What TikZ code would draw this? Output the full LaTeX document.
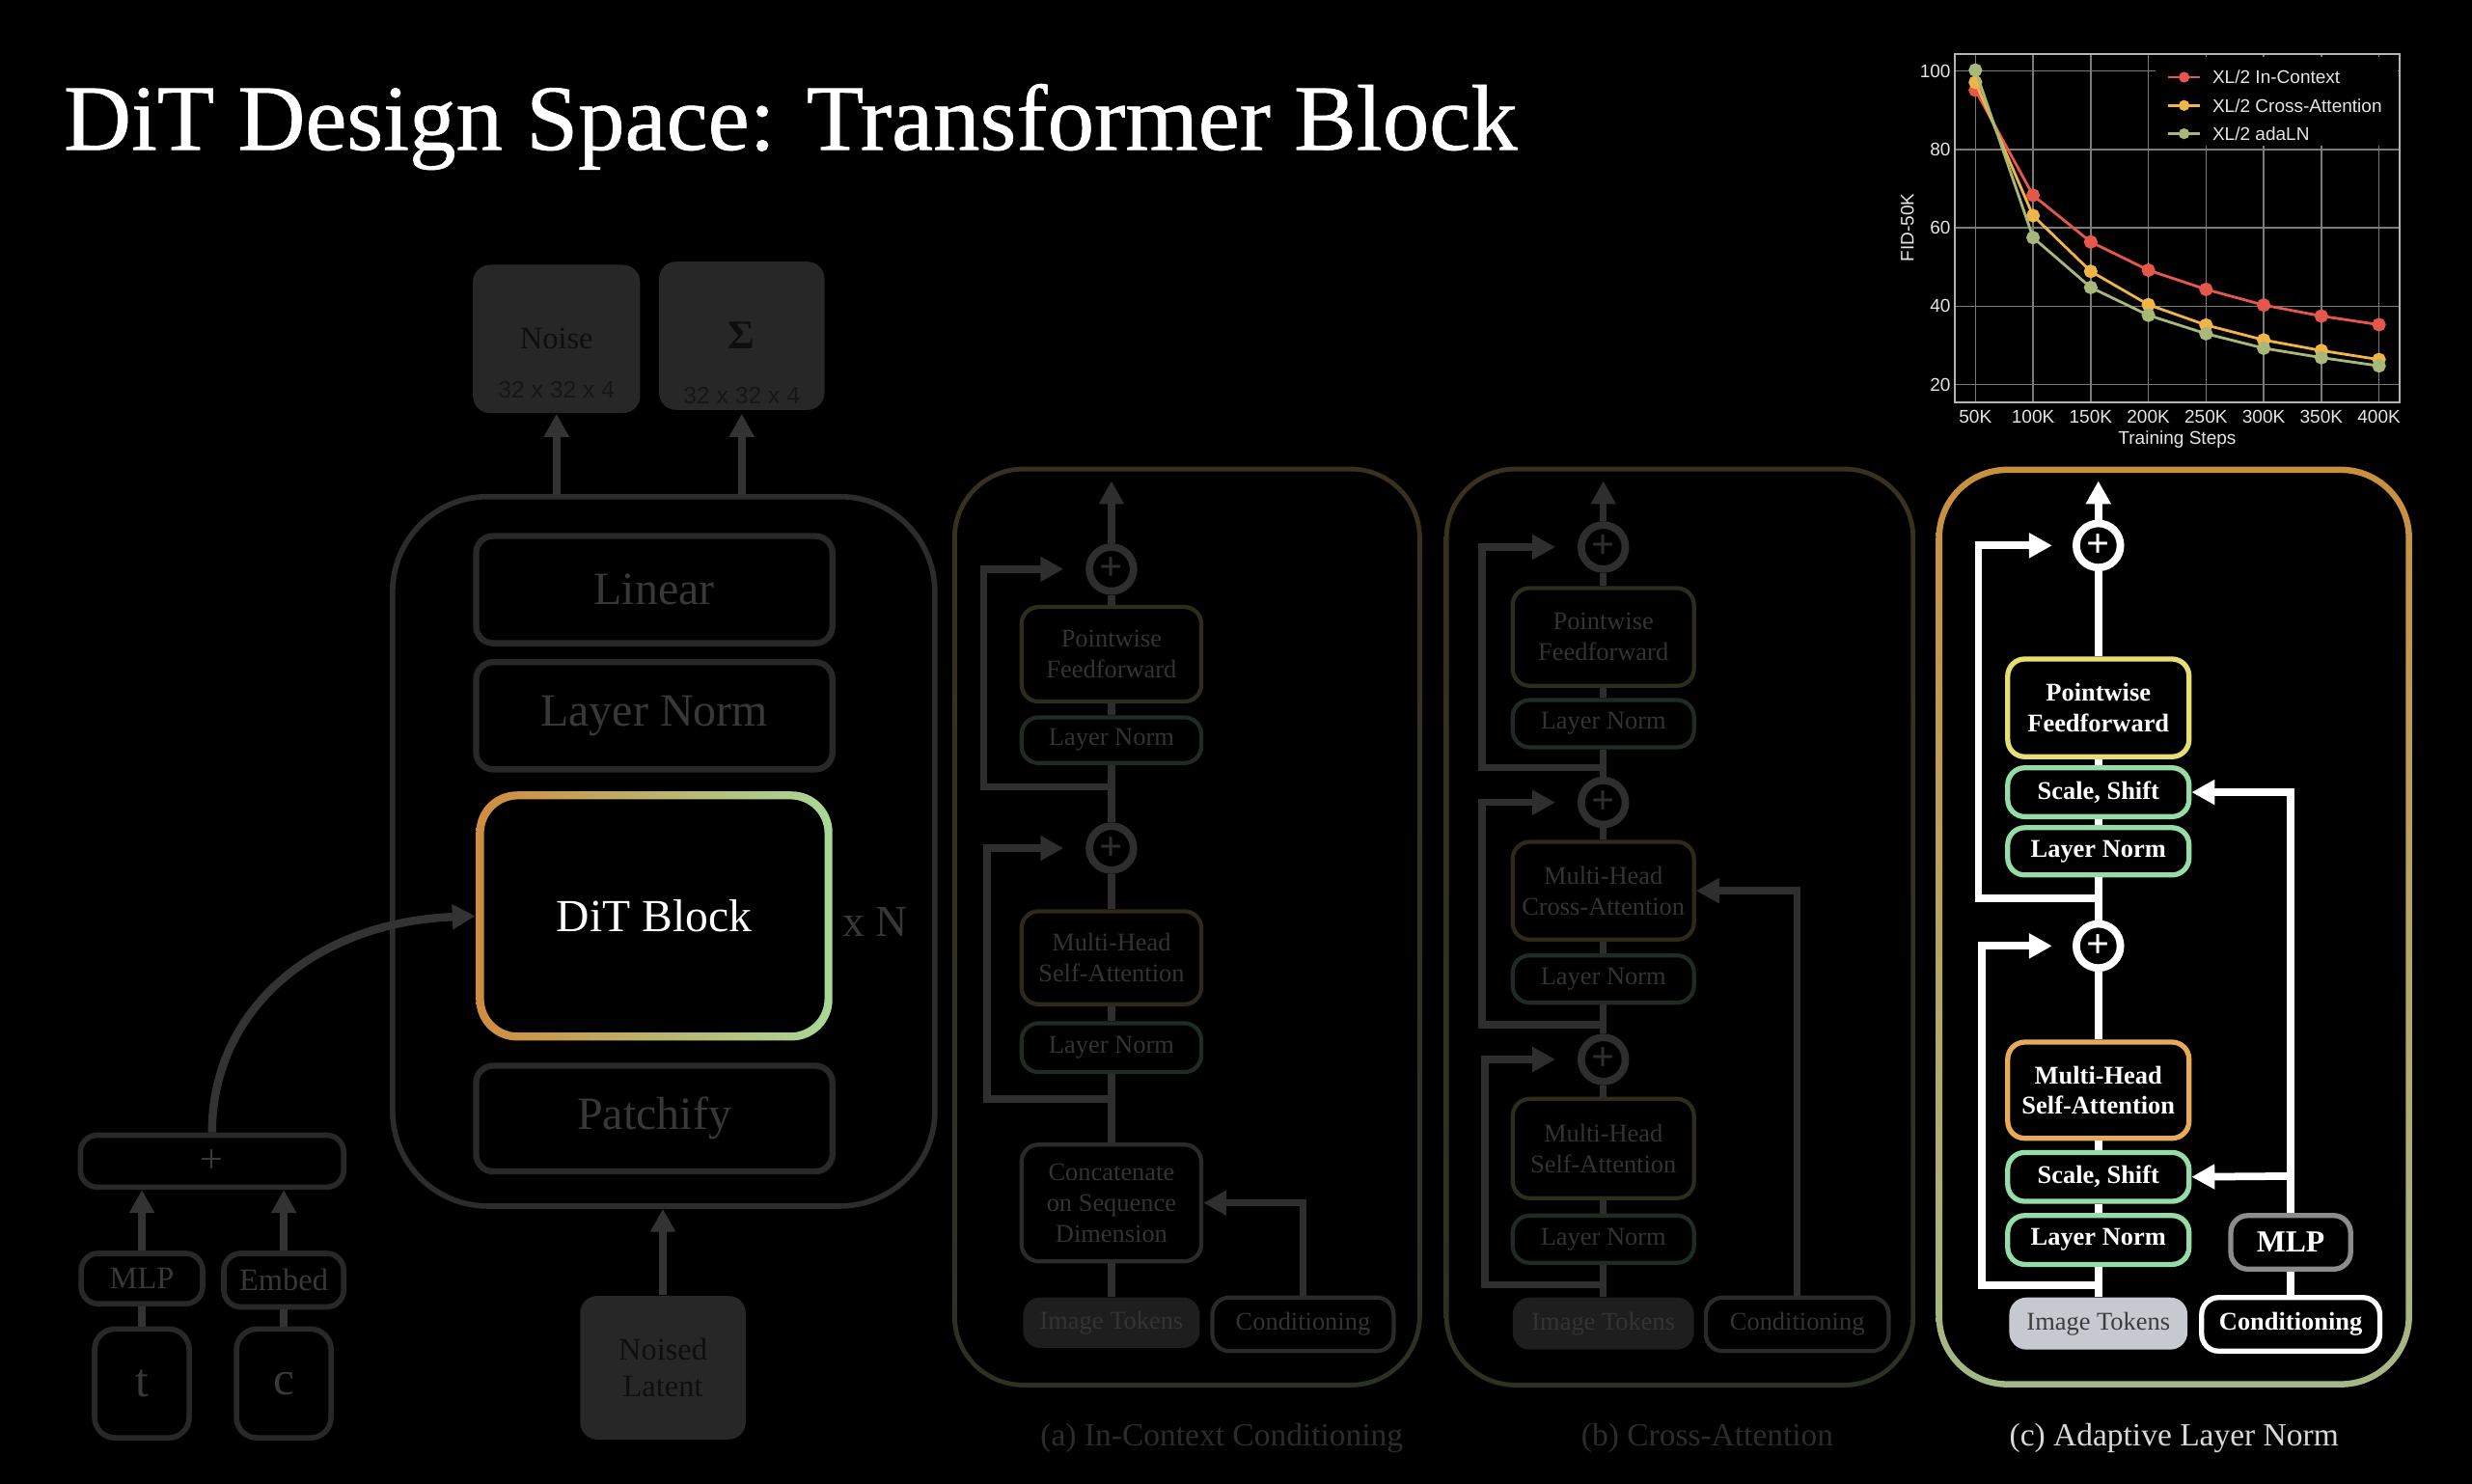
\documentclass[tikz,border=0pt]{standalone}
\usepackage{fontspec}
\setmainfont{Liberation Serif}
\setsansfont{Liberation Sans}
\newfontfamily\titlefont[FakeBold=0.6]{Liberation Serif}
\usetikzlibrary{arrows.meta}
\usepackage{xcolor}
\newcommand{\dpx}{0.4636pt}
\definecolor{lline}{HTML}{333333}
\definecolor{lbord}{HTML}{282828}
\definecolor{ltxt}{HTML}{383838}
\definecolor{obord}{HTML}{2C2C2C}
\definecolor{gfill}{HTML}{272727}
\definecolor{gtxt}{HTML}{0E0E0E}
\definecolor{gsub}{HTML}{161616}
\definecolor{ditor}{HTML}{D08C40}
\definecolor{ditgr}{HTML}{A8D898}
\definecolor{aline}{HTML}{2E2E2E}
\definecolor{atxt}{HTML}{333333}
\definecolor{aedge}{HTML}{2A2A2A}
\definecolor{aimg}{HTML}{1E1E1E}
\definecolor{apfb}{HTML}{2E2C1C}
\definecolor{alnb}{HTML}{1E2C24}
\definecolor{amhb}{HTML}{302818}
\definecolor{pat}{HTML}{3A3020}
\definecolor{pab}{HTML}{2A3224}
\definecolor{cpfb}{HTML}{E6DE72}
\definecolor{clnb}{HTML}{96DCA6}
\definecolor{cmhb}{HTML}{E8AA58}
\definecolor{cimg}{HTML}{C6C9CF}
\definecolor{cimgt}{HTML}{3C3C3C}
\definecolor{mlpb}{HTML}{8C8C8C}
\definecolor{pct}{HTML}{C8903E}
\definecolor{pcb}{HTML}{A4B886}
\definecolor{capd}{HTML}{2C2C2C}
\definecolor{capc}{HTML}{D8D8D8}
\definecolor{redc}{HTML}{E5574A}
\definecolor{orgc}{HTML}{F0B448}
\definecolor{grnc}{HTML}{A8B878}
\definecolor{gridc}{HTML}{7A7A7A}
\definecolor{framec}{HTML}{B4B4B4}
\definecolor{tkc}{HTML}{E6E6E6}

\begin{document}
\begin{tikzpicture}[x=\dpx, y=-\dpx,
  bx/.style 2 args={minimum width=#1*\dpx, minimum height=#2*\dpx, inner sep=0pt, rounded corners=5pt, align=center},
  lbox/.style={draw=lbord, line width=1.8pt, text=ltxt, font=\fontsize{13.6}{16}\selectfont},
  sbox/.style={draw=lbord, line width=1.6pt, text=ltxt, font=\fontsize{9.2}{11}\selectfont},
  gbox/.style={fill=gfill, text=gtxt, font=\fontsize{9.2}{11}\selectfont},
  abox/.style={draw=#1, line width=1.2pt, text=atxt, font=\fontsize{7.5}{9}\selectfont},
  cbox/.style={draw=#1, line width=1.5pt, text=white, font=\bfseries\fontsize{7.5}{9}\selectfont},
  pl/.style={circle, draw=#1, text=#1, line width=2.2pt, fill=black, minimum size=28*\dpx, inner sep=0pt, font=\bfseries\fontsize{12}{12}\selectfont},
  lwire/.style={draw=lline, line width=2.4pt},
  awire/.style={draw=aline, line width=2.1pt},
  cwire/.style={draw=white, line width=2.2pt},
  arr/.style={-{Triangle[length=6.8pt,width=7pt]}},
  capt/.style={font=\fontsize{9.5}{11}\selectfont},
  gridln/.style={draw=gridc, line width=0.4pt},
  tk/.style={text=tkc, inner sep=0pt, font=\sffamily\fontsize{5.4}{6}\selectfont}]

\useasboundingbox (0,0) rectangle (1568,941);
\fill[black] (0,0) rectangle (1568,941);

\node[anchor=base west, inner sep=0pt, text=white, font=\titlefont\fontsize{27.5}{32}\selectfont] (title) at (40,95) {DiT Design Space: Transformer Block};

% DiT overview
\node[draw=obord, line width=1.6pt, rounded corners=28pt, minimum width=344*\dpx, minimum height=450*\dpx, inner sep=0pt] (tblock) at (421,540) {};
\node[bx={106}{94}, gbox] (noise) at (353,215) {Noise};
\node[text=gsub, font=\sffamily\fontsize{7}{8}\selectfont] (noisedim) at (353,247) {32 x 32 x 4};
\node[bx={105}{94}, gbox, font=\bfseries\fontsize{12}{12}\selectfont] (sigma) at (470.5,213) {Σ};
\node[text=gsub, font=\sffamily\fontsize{7}{8}\selectfont] (sigmadim) at (470.5,251) {32 x 32 x 4};
\node[bx={226}{68}, lbox] (linear) at (415,374) {Linear};
\node[bx={226}{68}, lbox] (lnorm) at (415,454) {Layer Norm};
\node[bx={226}{158}, text=white, font=\fontsize{13.5}{16}\selectfont] (dit) at (415,581) {DiT Block};
\shade[left color=ditor, right color=ditgr, even odd rule, rounded corners=12pt] (302,502) rectangle (528,660) [rounded corners=10pt] (307,507) rectangle (523,655);
\node[text=ltxt, font=\fontsize{13}{15}\selectfont] (xn) at (555,585) {x N};
\node[bx={226}{67}, lbox] (patch) at (415,709.5) {Patchify};
\node[bx={105}{91}, gbox] (latent) at (420.5,867.5) {Noised\\Latent};
\node[bx={167}{33}, sbox, font=\fontsize{12}{12}\selectfont] (plusbox) at (134.5,736.5) {+};
\node[bx={77}{32}, sbox] (mlp) at (90,811) {MLP};
\node[bx={76}{34}, sbox] (embed) at (180,812) {Embed};
\node[bx={60}{69}, sbox, rounded corners=6pt, font=\fontsize{14}{14}\selectfont] (tin) at (90,877.5) {t};
\node[bx={60}{69}, sbox, rounded corners=6pt, font=\fontsize{14}{14}\selectfont] (cin) at (180,877.5) {c};

\draw[lwire, arr] (tblock.north -| noise) -- (noise.south);
\draw[lwire, arr] (tblock.north -| sigma) -- (sigma.south |- noise.south);
\draw[lwire, arr] (latent.north) -- (latent.north |- tblock.south);
\draw[lwire] (tin) -- (mlp);
\draw[lwire] (cin) -- (embed);
\draw[lwire, arr] (mlp.north) -- (mlp.north |- plusbox.south);
\draw[lwire, arr] (embed.north) -- (embed.north |- plusbox.south);
\draw[lwire, arr] (plusbox.north) .. controls (134.5,640) and (200,585) .. (dit.west);

% (a) in-context
\shade[top color=pat, bottom color=pab, even odd rule, rounded corners=21pt] (604,296) rectangle (902,880) [rounded corners=19.5pt] (607,299) rectangle (899,877);
\node[bx={112}{32}, fill=aimg, text=atxt, font=\fontsize{7.5}{9}\selectfont] (ait) at (705,839) {Image Tokens};
\node[bx={115}{34}, abox=aedge] (acond) at (826.5,840) {Conditioning};
\node[bx={114}{74}, abox=aedge] (acat) at (705,763) {Concatenate\\on Sequence\\Dimension};
\node[bx={114}{31}, abox=alnb] (aln1) at (705,664.5) {Layer Norm};
\node[bx={114}{59}, abox=amhb] (amh) at (705,607.5) {Multi-Head\\Self-Attention};
\node[pl=aline] (ap1) at (705,538) {+};
\node[bx={114}{29}, abox=alnb] (aln2) at (705,469.5) {Layer Norm};
\node[bx={114}{60}, abox=apfb] (apf) at (705,415) {Pointwise\\Feedforward};
\node[pl=aline] (ap2) at (705,361) {+};
\coordinate (aout) at (705,305);
\coordinate (ar1) at (705,697);
\coordinate (ar2) at (705,499);
\foreach \a/\b in {ait/acat,acat/aln1,aln1/amh,amh/ap1,ap1/aln2,aln2/apf,apf/ap2}
  \draw[awire] (\a) -- (\b);
\draw[awire, arr] (ap2) -- (aout);
\draw[awire, arr, shorten >=6.5pt] (ar1) -- ++(-79,0) |- (ap1.west);
\draw[awire, arr, shorten >=6.5pt] (ar2) -- ++(-81,0) |- (ap2.west);
\draw[awire, arr] (acond.north) |- (acat.east);
\node[capt, text=capd] (capa) at (775,912) {(a) In-Context Conditioning};

% (b) cross-attention
\shade[top color=pat, bottom color=pab, even odd rule, rounded corners=21pt] (916,296) rectangle (1215,880) [rounded corners=19.5pt] (919,299) rectangle (1212,877);
\node[bx={115}{33}, fill=aimg, text=atxt, font=\fontsize{7.5}{9}\selectfont] (bit) at (1017,839.5) {Image Tokens};
\node[bx={116}{34}, abox=aedge] (bcond) at (1140,840) {Conditioning};
\node[bx={115}{30}, abox=alnb] (bln1) at (1017,786) {Layer Norm};
\node[bx={115}{63}, abox=apfb] (bsa) at (1017,728.5) {Multi-Head\\Self-Attention};
\node[pl=aline] (bp1) at (1017,672) {+};
\node[bx={115}{30}, abox=alnb] (bln2) at (1017,621) {Layer Norm};
\node[bx={115}{62}, abox=amhb] (bca) at (1017,565) {Multi-Head\\Cross-Attention};
\node[pl=aline] (bp2) at (1017,509) {+};
\node[bx={115}{30}, abox=alnb] (bln3) at (1017,459) {Layer Norm};
\node[bx={115}{62}, abox=apfb] (bpf) at (1017,404) {Pointwise\\Feedforward};
\node[pl=aline] (bp3) at (1017,347) {+};
\coordinate (bout) at (1017,305);
\coordinate (br1) at (1017,815);
\coordinate (br2) at (1017,650);
\coordinate (br3) at (1017,487);
\foreach \a/\b in {bit/bln1,bln1/bsa,bsa/bp1,bp1/bln2,bln2/bca,bca/bp2,bp2/bln3,bln3/bpf,bpf/bp3}
  \draw[awire] (\a) -- (\b);
\draw[awire, arr] (bp3) -- (bout);
\draw[awire, arr, shorten >=6.5pt] (br1) -- ++(-75,0) |- (bp1.west);
\draw[awire, arr, shorten >=6.5pt] (br2) -- ++(-77,0) |- (bp2.west);
\draw[awire, arr, shorten >=6.5pt] (br3) -- ++(-77,0) |- (bp3.west);
\draw[awire, arr] (bcond.north) |- (bca.east);
\node[capt, text=capd] (capb) at (1083,912) {(b) Cross-Attention};

% (c) adaLN
\shade[top color=pct, bottom color=pcb, even odd rule, rounded corners=21pt] (1228,296) rectangle (1530,880) [rounded corners=19pt] (1232,300) rectangle (1526,876);
\node[bx={113}{33}, fill=cimg, text=cimgt, font=\fontsize{7.5}{9}\selectfont] (cit) at (1331,839.5) {Image Tokens};
\node[bx={113}{34}, cbox=white] (ccond) at (1453,840) {Conditioning};
\node[bx={76}{34}, cbox=mlpb, font=\bfseries\fontsize{9}{10}\selectfont] (cmlp) at (1453,788) {MLP};
\node[bx={115}{31}, cbox=clnb] (cln1) at (1331,786.5) {Layer Norm};
\node[bx={115}{31}, cbox=clnb] (css1) at (1331,746.5) {Scale, Shift};
\node[bx={115}{61}, cbox=cmhb] (cmh) at (1331,691.5) {Multi-Head\\Self-Attention};
\node[pl=white] (cp1) at (1331,600) {+};
\node[bx={115}{30}, cbox=clnb] (cln2) at (1331,540) {Layer Norm};
\node[bx={115}{31}, cbox=clnb] (css2) at (1331,502.5) {Scale, Shift};
\node[bx={115}{62}, cbox=cpfb] (cpf) at (1331,449) {Pointwise\\Feedforward};
\node[pl=white] (cp2) at (1331,346) {+};
\coordinate (cout) at (1331,305);
\coordinate (cr1) at (1331,815);
\coordinate (cr2) at (1331,570);
\coordinate (cbr) at (1453,746);
\foreach \a/\b in {cit/cln1,cln1/css1,css1/cmh,cmh/cp1,cp1/cln2,cln2/css2,css2/cpf,cpf/cp2}
  \draw[cwire] (\a) -- (\b);
\draw[cwire, arr] (cp2) -- (cout);
\draw[cwire, arr, shorten >=6pt] (cr1) -- ++(-74,0) |- (cp1.west);
\draw[cwire, arr, shorten >=6pt] (cr2) -- ++(-76,0) |- (cp2.west);
\draw[cwire] (ccond) -- (cmlp);
\draw[cwire, arr] (cmlp.north) |- (css2.east);
\draw[cwire, arr] (cbr) -- (css1.east);
\node[capt, text=capc] (capc) at (1379,912) {(c) Adaptive Layer Norm};

% FID chart
\begin{scope}[shift={(1216.43,293.75)}]
\begin{scope}[x=0.3391pt, y=1.1532pt]
\foreach \k in {50,100,...,400} \draw[gridln] (\k,15.6) -- (\k,104.4);
\foreach \v in {20,40,...,100} \draw[gridln] (32,\v) -- (418,\v);
\draw[framec, line width=0.6pt] (32,15.6) rectangle (418,104.4);
\foreach \k in {50,100,...,400} \node[tk] (xt\k) at (\k,11.8) {\k K};
\foreach \v in {20,40,...,100} \node[tk, anchor=east] (yt\v) at (29,\v) {\v};
\node[tk] (xlab) at (225,6) {Training Steps};
\node[tk, rotate=90] (ylab) at (-9,60) {FID-50K};
\fill[black] (206,81) rectangle (416,103.5);
\draw[redc, line width=0.8pt, mark=*, mark size=1.6pt, mark options={fill=redc}] plot coordinates {(50,95.1) (100,68.3) (150,56.4) (200,49.2) (250,44.3) (300,40.3) (350,37.5) (400,35.3)};
\draw[orgc, line width=0.8pt, mark=*, mark size=1.6pt, mark options={fill=orgc}] plot coordinates {(50,97.1) (100,63.1) (150,48.9) (200,40.4) (250,35.2) (300,31.4) (350,28.7) (400,26.4)};
\draw[grnc, line width=0.8pt, mark=*, mark size=1.6pt, mark options={fill=grnc}] plot coordinates {(50,100.2) (100,57.5) (150,44.8) (200,37.7) (250,33.0) (300,29.3) (350,26.9) (400,24.8)};
\foreach \c/\v/\t [count=\i] in {redc/98.4/In-Context,orgc/91.2/Cross-Attention,grnc/84.0/adaLN} {
  \draw[\c, line width=0.8pt] (217,\v) -- (245,\v);
  \fill[\c] (231,\v) circle (1.6pt);
  \node[tk, anchor=west] (leg\i) at (255,\v) {XL/2 \t};
}
\end{scope}
\end{scope}
\end{tikzpicture}
\end{document}
